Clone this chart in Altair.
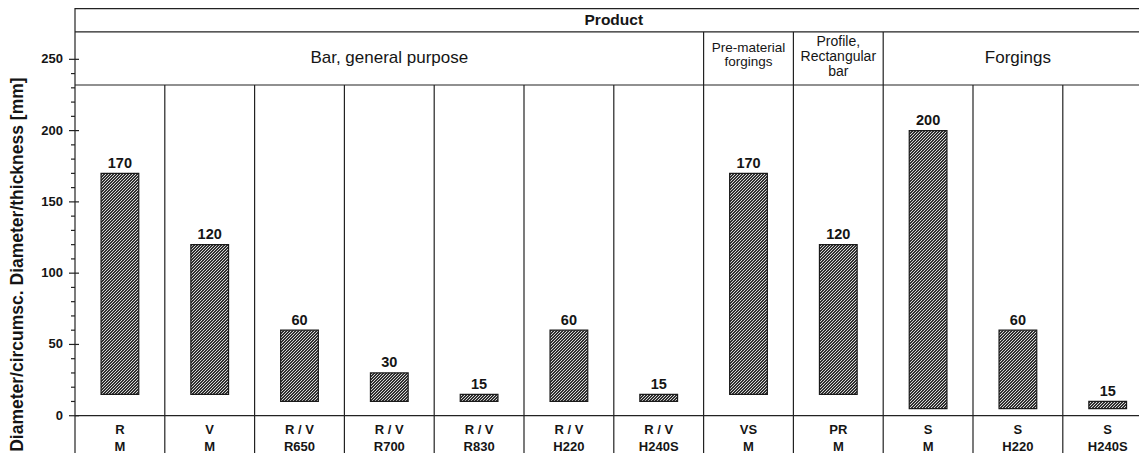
import math
import altair as alt
import pandas as pd

# ---------------- data ----------------
row1 = ["R", "V", "R / V", "R / V", "R / V", "R / V", "R / V", "VS", "PR", "S", "S", "S"]
row2 = ["M", "M", "R650", "R700", "R830", "H220", "H240S", "M", "M", "M", "H220", "H240S"]
lows = [15, 15, 10, 10, 10, 10, 10, 15, 15, 5, 5, 5]
highs = [170, 120, 60, 30, 15, 60, 15, 170, 120, 200, 60, 10]
value_labels = ["170", "120", "60", "30", "15", "60", "15", "170", "120", "200", "60", "15"]

groups_big = ["Bar, general purpose", "Forgings"]
groups_big_span = [(0, 7), (9, 12)]
group_pre = "Pre-material\nforgings"
group_pre_span = (7, 8)
group_prof = "Profile,\nRectangular\nbar"
group_prof_span = (8, 9)
top_title = "Product"

y_ticks = [0, 50, 100, 150, 200, 250]
minor_ticks = [v for v in range(0, 251, 10) if v % 50 != 0]
y_title = "Diameter/circumsc. Diameter/thickness [mm]"

# ---------------- layout / style ----------------
FONT = "Liberation Sans, Arial, Helvetica, sans-serif"
TXT = "#151515"
LINE = "#222222"
PPU = 1.4256          # pixels per y unit
COL_PX = 89.8         # pixels per column
LEFT_PAD = 67
PLOT_W = 1064
PLOT_H = 445
YMAX = 286.0
YMIN = YMAX - PLOT_H / PPU
XMAX = PLOT_W / COL_PX
HDR_LOW = 232.0
HDR_MID = 269.2
TOP_LINE = 285.6
ROW1_Y = -10.0
ROW2_Y = -22.0
TITLE_Y = 106.0
BAR_L, BAR_R = 0.29, 0.71
PERIOD = 3.0
DARK, LIGHT, DARK_FRAC = "#303030", "#d6d6d6", 2.0 / 3.0

xs = alt.Scale(domain=[0, XMAX], nice=False, zero=False)
ys = alt.Scale(domain=[YMIN, YMAX], nice=False, zero=False)


def X(f):
    return alt.X(f, type="quantitative", scale=xs, axis=None)


def Y(f):
    return alt.Y(f, type="quantitative", scale=ys, axis=None)


cols = pd.DataFrame({
    "i": list(range(len(row1))),
    "row1": row1, "row2": row2,
    "lo": lows, "hi": highs, "lab": value_labels,
})
cols["xc"] = cols["i"] + 0.5
cols["x0"] = cols["i"] + BAR_L
cols["x1"] = cols["i"] + BAR_R
cols["r1"] = ROW1_Y
cols["r2"] = ROW2_Y

layers = []

# vertical lines (incl. the y-axis line at x=0)
vlines = pd.DataFrame(
    [{"x": 0, "y": YMIN, "y2": YMAX}]
    + [{"x": c, "y": YMIN, "y2": HDR_LOW} for c in range(1, 12)]
    + [{"x": c, "y": HDR_LOW, "y2": HDR_MID} for c in (7, 8, 9)]
)
layers.append(
    alt.Chart(vlines).mark_rule(color=LINE, strokeWidth=1.2).encode(
        x=X("x"), y=Y("y"), y2="y2")
)

# horizontal lines
hlines = pd.DataFrame([{"y": v, "x": 0, "x2": XMAX} for v in (0, HDR_LOW, HDR_MID, TOP_LINE)])
layers.append(
    alt.Chart(hlines).mark_rule(color=LINE, strokeWidth=1.2).encode(
        x=X("x"), x2="x2", y=Y("y"))
)

# y axis: major ticks (crossing), minor ticks, labels, title
axis_df = pd.DataFrame({"v": y_ticks, "t": [str(v) for v in y_ticks]})
layers.append(
    alt.Chart(axis_df).mark_rule(color=LINE, strokeWidth=1.2).encode(
        y=Y("v"), x=alt.value(-6), x2=alt.value(4))
)
layers.append(
    alt.Chart(pd.DataFrame({"v": minor_ticks})).mark_rule(color=LINE, strokeWidth=1.2).encode(
        y=Y("v"), x=alt.value(-4), x2=alt.value(0))
)
layers.append(
    alt.Chart(axis_df).mark_text(font=FONT, fontSize=13, fontWeight="bold", color=TXT,
                                 align="right", baseline="middle").encode(
        y=Y("v"), x=alt.value(-12), text="t:N")
)
layers.append(
    alt.Chart(pd.DataFrame({"t": [y_title], "v": [TITLE_Y]})).mark_text(
        font=FONT, fontSize=17.5, fontWeight="bold", color=TXT, angle=270,
        align="center", baseline="middle").encode(
        y=Y("v"), x=alt.value(-57), text="t:N")
)


def hatch(w, h):
    # diagonal "/" stripes with an exact pixel period (gradient in bounding-box units)
    n = math.ceil((w + h) / PERIOD)
    Lp = n * PERIOD
    s = Lp / (w * w + h * h)
    stops = []
    for k in range(n):
        a = round(k / n, 7)
        b = round((k + DARK_FRAC) / n, 7)
        c = round((k + 1) / n, 7)
        stops += [
            alt.GradientStop(offset=a, color=DARK),
            alt.GradientStop(offset=b, color=DARK),
            alt.GradientStop(offset=b, color=LIGHT),
            alt.GradientStop(offset=c, color=LIGHT),
        ]
    return alt.LinearGradient(gradient="linear", stops=stops, x1=0, y1=0,
                              x2=round(s * w, 7), y2=round(s * h, 7))


bar_w_px = (BAR_R - BAR_L) * COL_PX
for i in range(len(row1)):
    h_px = (highs[i] - lows[i]) * PPU
    layers.append(
        alt.Chart(cols).transform_filter(alt.datum.i == i).mark_bar(
            fill=hatch(bar_w_px, h_px), stroke="#1a1a1a", strokeWidth=1.2
        ).encode(x=X("x0"), x2="x1", y=Y("lo"), y2="hi")
    )

# value labels
layers.append(
    alt.Chart(cols).mark_text(font=FONT, fontSize=14.5, fontWeight="bold", color=TXT,
                              baseline="alphabetic", dy=-5.5, align="center").encode(
        x=X("xc"), y=Y("hi"), text="lab:N")
)
# bottom label rows
layers.append(
    alt.Chart(cols).mark_text(font=FONT, fontSize=13, fontWeight="bold", color=TXT,
                              baseline="middle", align="center").encode(
        x=X("xc"), y=Y("r1"), text="row1:N")
)
layers.append(
    alt.Chart(cols).mark_text(font=FONT, fontSize=13, fontWeight="bold", color=TXT,
                              baseline="middle", align="center").encode(
        x=X("xc"), y=Y("r2"), text="row2:N")
)

# headers
prod = pd.DataFrame([{"t": top_title, "x": 6.0, "y": 277.6}])
layers.append(
    alt.Chart(prod).mark_text(font=FONT, fontSize=15.5, fontWeight="bold", color=TXT,
                              baseline="middle", align="center").encode(
        x=X("x"), y=Y("y"), text="t:N")
)
big = pd.DataFrame(
    [{"t": g, "x": (a + b) / 2, "y": 250.6} for g, (a, b) in zip(groups_big, groups_big_span)]
)
layers.append(
    alt.Chart(big).mark_text(font=FONT, fontSize=17, color=TXT, baseline="middle",
                             align="center").encode(x=X("x"), y=Y("y"), text="t:N")
)
pre = pd.DataFrame([{"t": group_pre, "x": sum(group_pre_span) / 2, "y": 257.6}])
layers.append(
    alt.Chart(pre).mark_text(font=FONT, fontSize=13.5, color=TXT, baseline="middle",
                             align="center", lineBreak="\n", lineHeight=13.5).encode(
        x=X("x"), y=Y("y"), text="t:N")
)
prof = pd.DataFrame([{"t": group_prof, "x": sum(group_prof_span) / 2, "y": 261.8}])
layers.append(
    alt.Chart(prof).mark_text(font=FONT, fontSize=14, color=TXT, baseline="middle",
                              align="center", lineBreak="\n", lineHeight=15).encode(
        x=X("x"), y=Y("y"), text="t:N")
)

chart = alt.layer(*layers).properties(
    width=PLOT_W, height=PLOT_H,
    autosize=alt.AutoSizeParams(type="none"),
    padding={"left": LEFT_PAD, "top": 0, "right": 0, "bottom": 0},
    background="white",
).configure_view(stroke=None)

chart.save("out.html", embed_options={"renderer": "svg", "actions": False})
